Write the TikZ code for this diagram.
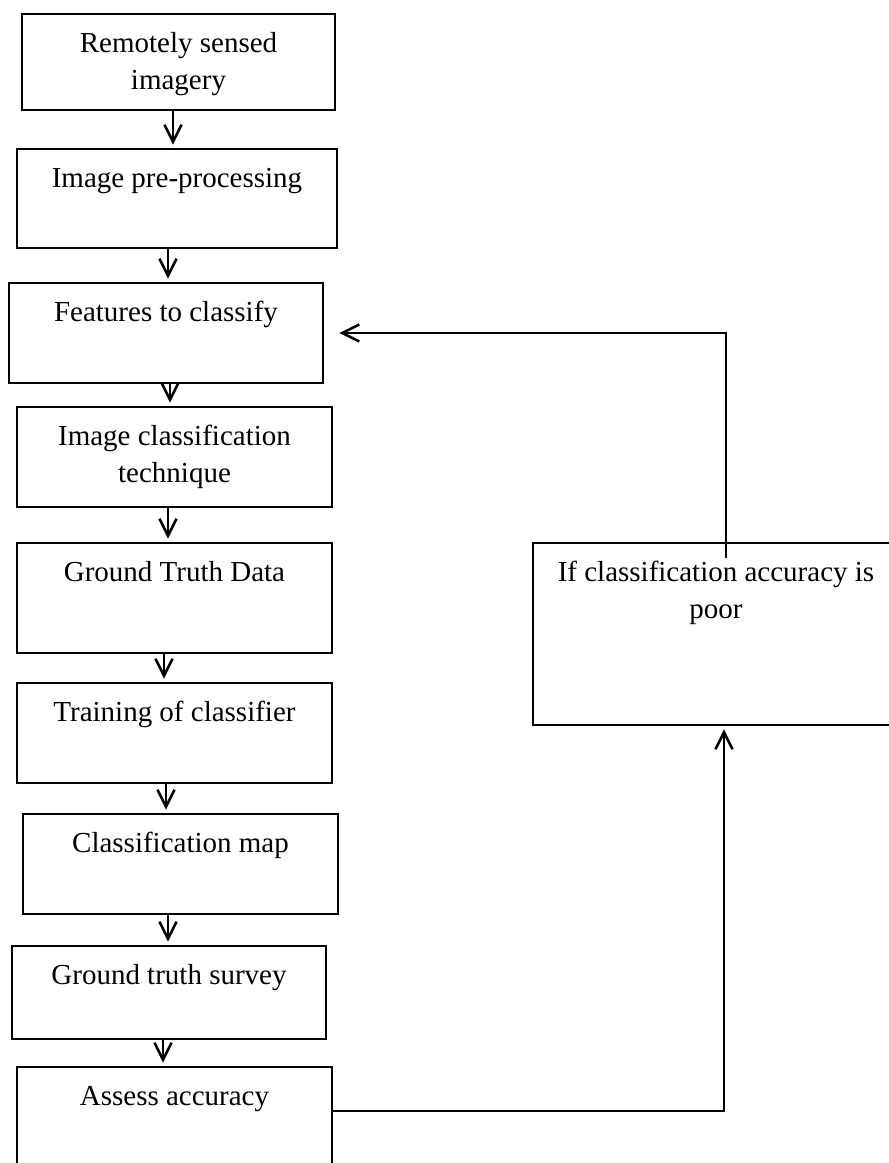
\documentclass[tikz,border=0pt]{standalone}
\usepackage{fontspec}
\setmainfont{Liberation Serif}
\usepackage{tikz}
\usetikzlibrary{arrows.meta,positioning,calc}

% text sits at the top of each box
\newcommand{\flowtxt}[3]{\parbox[c][#2pt][t]{#1pt}{\centering\vspace*{13pt}\strut #3}}

\begin{document}
\begin{tikzpicture}[
    x=1pt, y=-1pt,
    box/.style={rectangle, draw, line width=2.8pt, inner sep=0pt, font=\fontsize{29}{37}\selectfont},
    arrow/.style={->, >={Straight Barb[length=17pt,width=17pt]}, line width=2.6pt, shorten >=3pt}
]
\clip (0,0) rectangle (889,1163);

% Main column
\node[box] (rsi) at (178.5,62) {\flowtxt{313}{96}{Remotely sensed\\imagery}};
\node[box] (prep) at (177,198.5) {\flowtxt{320}{99}{Image pre-processing}};
\node[box] (feat) at (166,333) {\flowtxt{314}{100}{Features to classify}};
\node[box] (tech) at (174.5,457) {\flowtxt{315}{100}{Image classification\\technique}};
\node[box] (gtd) at (174.5,598) {\flowtxt{315}{110}{Ground Truth Data}};
\node[box] (train) at (174.5,733) {\flowtxt{315}{100}{Training of classifier}};
\node[box] (cmap) at (180.5,864) {\flowtxt{315}{100}{Classification map}};
\node[box] (survey) at (169,992.5) {\flowtxt{314}{93}{Ground truth survey}};
\node[box] (assess) at (174.5,1132) {\flowtxt{315}{130}{Assess accuracy}};

% Feedback box
\node[box] (poor) at (716,634) {\flowtxt{366}{182}{If classification accuracy is\\poor}};

% Arrows
\draw[arrow] (rsi.south -| 173,0) -- (prep.north -| 173,0);
\draw[arrow] (prep.south -| 168,0) -- (feat.north -| 168,0);
\draw[arrow] (feat.south -| 170,0) -- (tech.north -| 170,0);
\draw[arrow] (tech.south -| 168,0) -- (gtd.north -| 168,0);
\draw[arrow] (gtd.south -| 164,0) -- (train.north -| 164,0);
\draw[arrow] (train.south -| 166,0) -- (cmap.north -| 166,0);
\draw[arrow] (cmap.south -| 168,0) -- (survey.north -| 168,0);
\draw[arrow] (survey.south -| 163,0) -- (assess.north -| 163,0);

\draw[arrow] (assess.east |- 0,1111) -| ([xshift=8pt]poor.south);
\draw[arrow] ([xshift=10pt,yshift=-16pt]poor.north) |- ([xshift=12pt]feat.east);

\end{tikzpicture}
\end{document}
